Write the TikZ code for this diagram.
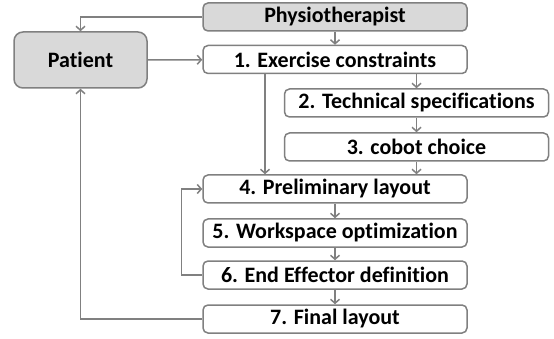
\documentclass[tikz,border=0pt]{standalone}
\usepackage{fontspec}
\setmainfont[Ligatures={NoCommon}]{Carlito}
\usepackage{tikz}
\usetikzlibrary{positioning, arrows.meta}

\definecolor{boxline}{HTML}{808080}
\definecolor{boxfill}{HTML}{D9D9D9}

\begin{document}
\begin{tikzpicture}[
      x=1pt, y=-1pt,
      font=\fontsize{22}{24}\selectfont\bfseries,
      actor/.style={draw=boxline, line width=1.5pt, rounded corners=5pt, fill=boxfill,
                    minimum height=28pt, inner sep=1pt},
      stage/.style={draw=boxline, line width=1.5pt, rounded corners=5pt, fill=white,
                    minimum width=264pt, minimum height=28pt, inner sep=1pt},
      arr/.style={draw=boxline, line width=1.5pt, -{Straight Barb[length=4pt, width=9pt]}},
    ]
    \useasboundingbox (0,0) rectangle (554,339);
    % ── actors ──
    \node[actor, minimum width=264pt] (physio) at (335,17) {Physiotherapist};
    \node[actor, minimum width=133pt, minimum height=56pt, rounded corners=9pt] (patient) at (80.5,60) {Patient};
    % ── design steps ──
    \node[stage] (s1) at (335,59.5)  {1. Exercise constraints};
    \node[stage] (s2) at (416.5,103) {2. Technical specifications};
    \node[stage] (s3) at (416.5,147) {3. cobot choice};
    \node[stage] (s4) at (335,189)   {4. Preliminary layout};
    \node[stage] (s5) at (335,233)   {5. Workspace optimization};
    \node[stage] (s6) at (335,275)   {6. End Effector definition};
    \node[stage] (s7) at (335,319)   {7. Final layout};
    \coordinate (skip) at (265,0);
    % ── flow ──
    \draw[arr] (physio) -- (s1);
    \draw[arr] (physio.west) -| (patient.north);
    \draw[arr] (patient) -- (s1);
    \draw[arr] (s1.south -| s2) -- (s2.north);
    \draw[arr] (s1.south -| skip) -- (s4.north -| skip);
    \foreach \a/\b in {s2/s3, s4/s5, s5/s6, s6/s7} \draw[arr] (\a) -- (\b);
    \draw[arr] (s3.south) -- (s4.north -| s3);
    \draw[arr] (s6.west) -- ++(-21,0) |- (s4.west);
    \draw[arr] (s7.west) -| (patient.south);
  \end{tikzpicture}
\end{document}
